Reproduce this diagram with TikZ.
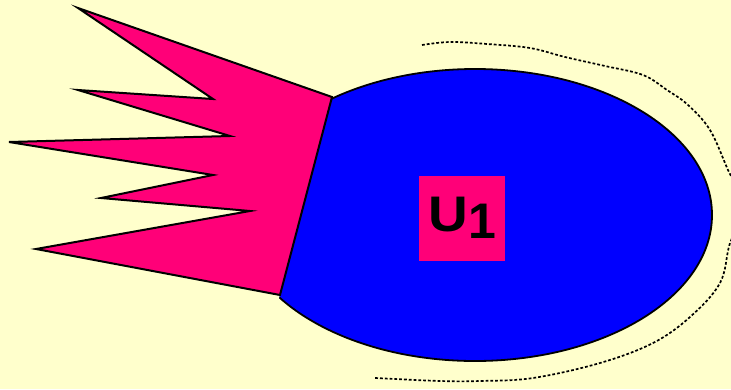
\documentclass[tikz,border=0pt]{standalone}
\usepackage{fontspec}
\setmainfont{Liberation Sans}
\begin{document}
\begin{tikzpicture}[x=1pt,y=-1pt]
\definecolor{bgc}{HTML}{FFFFCC}
\definecolor{pinkc}{HTML}{FF0078}
\definecolor{bluec}{HTML}{0000FF}
\tikzset{
  outline/.style={draw=black,line width=2pt,line join=miter},
  halo/.style={draw=black,line width=1.7pt,dash pattern=on 2.8pt off 2pt},
  lbl/.style={anchor=base west,inner sep=0pt,font=\bfseries\fontsize{50}{50}\selectfont}
}
\fill[bgc] (0,0) rectangle (731,389);
\useasboundingbox (0,0) rectangle (731,389);
% blue ellipse, cut on the left by the pink flame
\begin{scope}
  \clip (358,-2) -- (254,394) -- (740,394) -- (740,-2) -- cycle;
  \draw[outline,fill=bluec,line width=1.8pt] (475,215) ellipse [x radius=237, y radius=146];
\end{scope}
% pink flame
\draw[outline,fill=pinkc]
  (78,8) -- (332,97) -- (280,295) -- (36,249) -- (250,211) -- (101,198)
  -- (213,175) -- (9,142) -- (230,136) -- (78,90) -- (213,99) -- cycle;
% dotted halo
\begin{scope}
  \clip (0,0) rectangle (731,389);
  \draw[halo] plot[smooth,tension=0.6] coordinates {
    (422,45) (450,42) (487,44) (530,48) (565,57) (605,66) (643,75) (667,90)
    (688,105) (710,130) (728,170) (745,208) (730,243) (720,283) (690,317)
    (653,343) (600,363) (533,378) (480,381) (440,381) (375,378)};
\end{scope}
% label
\node[fill=pinkc,minimum width=86pt,minimum height=85pt,inner sep=0pt] (box) at (462,218.5) {};
\node[lbl] (u) at (428.5,231) {\scalebox{1.1}[1]{U}};
\node[lbl] (one) at (468.5,238) {1};
\end{tikzpicture}
\end{document}
